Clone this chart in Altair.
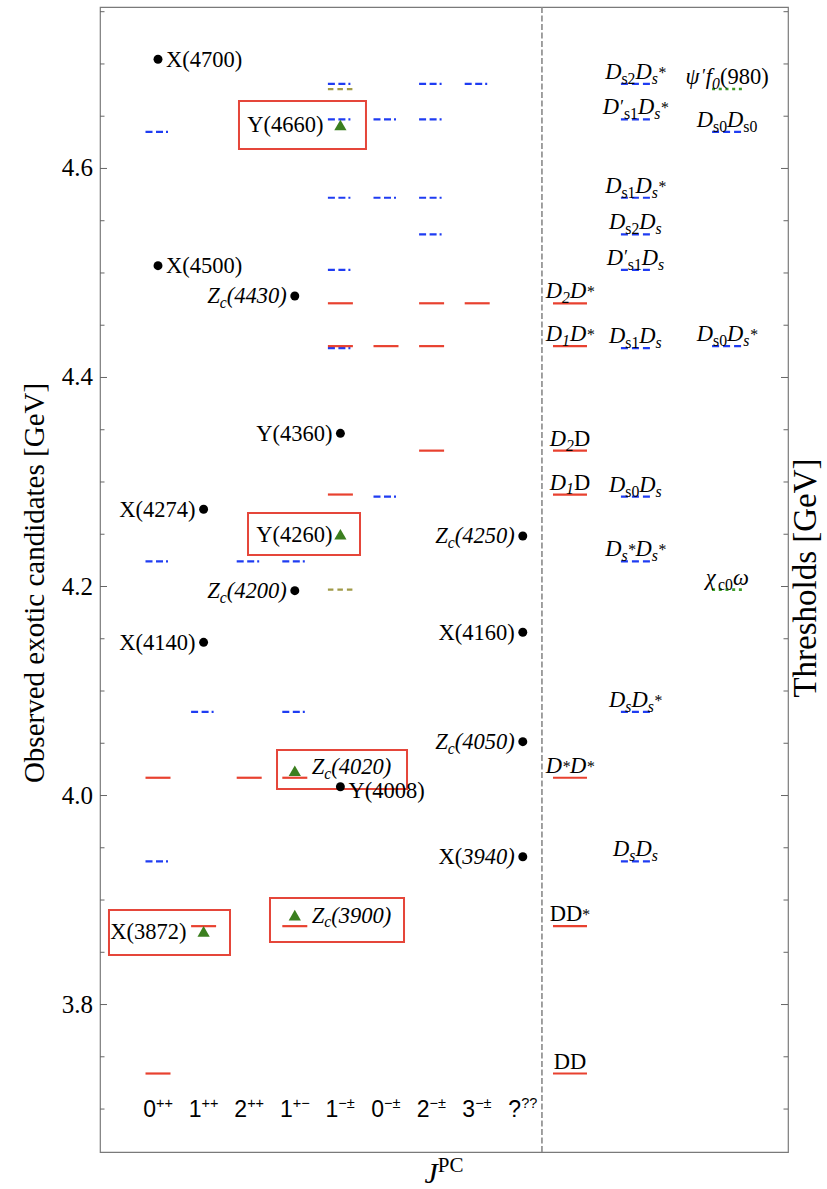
import altair as alt
import pandas as pd

# ---------------- data ----------------
jpc_digit = ["0", "1", "2", "1", "1", "0", "2", "3", "?"]
jpc_sup = ["++", "++", "++", "+−", "−±", "−±", "−±", "−±", "??"]

# thresholds repeated inside the J^PC columns (column index 1..9)
seg_col = [1, 1, 1, 1, 1,
           2, 2,
           3, 3,
           4, 4, 4, 4,
           5, 5, 5, 5, 5, 5, 5, 5, 5, 5,
           6, 6, 6, 6,
           7, 7, 7, 7, 7, 7, 7,
           8, 8]
seg_mass = [4.635, 4.224, 4.017, 3.937, 3.734,
            4.080, 3.875,
            4.224, 4.017,
            4.224, 4.080, 4.017, 3.875,
            4.681, 4.676, 4.647, 4.572, 4.503, 4.471, 4.428, 4.430, 4.288, 4.197,
            4.647, 4.572, 4.430, 4.286,
            4.681, 4.647, 4.572, 4.537, 4.471, 4.430, 4.330,
            4.681, 4.471]
seg_kind = ["B", "B", "R", "B", "R",
            "B", "R",
            "B", "R",
            "B", "B", "R", "R",
            "B", "O", "B", "B", "B", "R", "B", "R", "R", "O",
            "B", "B", "R", "B",
            "B", "B", "B", "B", "R", "R", "R",
            "B", "R"]

# threshold columns on the right (column 1..3)
thr_col = [1, 1, 1, 1, 1, 1, 1,
           2, 2, 2, 2, 2, 2, 2, 2, 2, 2,
           3, 3, 3, 3]
thr_mass = [4.471, 4.430, 4.330, 4.288, 4.017, 3.875, 3.734,
            4.681, 4.647, 4.572, 4.537, 4.503, 4.428, 4.286, 4.224, 4.080, 3.937,
            4.676, 4.635, 4.430, 4.197]
thr_kind = ["R", "R", "R", "R", "R", "R", "R",
            "B", "B", "B", "B", "B", "B", "B", "B", "B", "B",
            "G", "B", "B", "G"]
thr_label = ["D_2D^*", "D_1D^*", "D_2~D", "D_1~D", "D^*D^*", "~DD^*", "~DD",
             "D_{~s2~}D_s^*", "D^′_{~s1~}D_s^*", "D_{~s1~}D_s^*", "D_{~s2~}D_s",
             "D^′_{~s1~}D_s", "D_{~s1~}D_s", "D_{~s0~}D_s", "D_s^*D_s^*",
             "D_sD_s^*", "D_sD_s",
             "ψ^′f_0~(980)", "D_{~s0~}D_{~s0~}", "D_{~s0~}D_s^*", "χ_{~c0~}ω"]

# observed exotic candidates
cand_label = ["X(4700)", "X(4500)", "~Z_c(4430)", "Y(4660)", "Y(4360)", "X(4274)",
              "Y(4260)", "~Z_c(4250)", "~Z_c(4200)", "X(4140)", "X(4160)",
              "~Z_c(4050)", "~Z_c(4020)", "Y(4008)", "X(~3940)", "X(3872)",
              "~Z_c(3900)"]
cand_col = [1, 1, 4, 5, 5, 2, 5, 9, 4, 2, 9, 9, 4, 5, 9, 2, 4]
cand_mass = [4.7045, 4.507, 4.478, 4.6416, 4.3466, 4.2739, 4.250, 4.2483, 4.196,
             4.1466, 4.1562, 4.0515, 4.0237, 4.0084, 3.9414, 3.870, 3.8856]
cand_shape = ["circle", "circle", "circle", "triangle", "circle", "circle",
              "triangle", "circle", "circle", "circle", "circle", "circle",
              "triangle", "circle", "circle", "triangle", "triangle"]
cand_side = ["R", "R", "L", "L", "L", "L", "L", "L", "L", "L", "L", "L",
             "R", "R", "L", "L", "R"]

# highlight boxes (data units)
box_x1 = [2.776, 2.974, 3.610, -0.075, 3.456]
box_x2 = [5.561, 5.430, 6.461, 2.579, 6.395]
box_y1 = [4.6187, 4.2301, 4.0062, 3.8474, 3.8598]
box_y2 = [4.6646, 4.2703, 4.0435, 3.8904, 3.9019]

tick_minor = [3.70, 3.75, 3.80, 3.85, 3.90, 3.95, 4.00, 4.05, 4.10, 4.15, 4.20,
              4.25, 4.30, 4.35, 4.40, 4.45, 4.50, 4.55, 4.60, 4.65, 4.70, 4.75]
tick_major = [3.8, 4.0, 4.2, 4.4, 4.6]
tick_text = ["3.8", "4.0", "4.2", "4.4", "4.6"]

# ---------------- layout constants ----------------
X_DOM = [-0.272, 14.816]
Y_DOM = [3.6589, 4.7545]
W, H = 688, 1145
KX = (X_DOM[1] - X_DOM[0]) / W
KY = (Y_DOM[1] - Y_DOM[0]) / H
THR_X = [10.035, 11.47, 13.48]
SEP_X = 9.42
CAND_HALF = 12.5 * KX
THR_HALF = [17 * KX, 14.5 * KX, 15 * KX]

RED = "#e8412f"
BLUE = "#1f3cf2"
OLIVE = "#a09a48"
GREEN = "#3c9a26"
TRI = "#3b7f1f"
BOXC = "#e5463a"
SERIF = "Liberation Serif"
SANSF = "Liberation Sans"

TR = {'(': .333, ')': .333, '*': .5, '.': .25, ' ': .25, 'D': .722, 'X': .722,
      'Y': .722, 'Z': .611, 'J': .389, 'P': .556, 'C': .667, 's': .389, 'c': .444,
      'f': .333, '′': .275, 'ψ': .686, 'χ': .55, 'ω': .686}
TI = {'(': .333, ')': .333, '*': .5, 'D': .722, 'X': .611, 'Y': .556, 'Z': .556,
      'J': .444, 'P': .611, 'C': .667, 's': .389, 'c': .444, 'f': .278, '′': .275,
      'ψ': .686, 'χ': .55, 'ω': .686}
TS = {'+': .584, '−': .584, '±': .584, '?': .556}


def cw(ch, it, fam):
    if fam == "sans":
        return TS.get(ch, .556)
    if ch.isdigit():
        return .5
    return (TI if it else TR).get(ch, .5)


def layout(markup, fs, italic, fam="serif", ssize=0.7, sub_sh=0.22, sup_sh=-0.40):
    toks = []
    i = 0
    it = italic
    while i < len(markup):
        ch = markup[i]
        if ch == '~':
            it = not it
            i += 1
            continue
        if ch in '_^':
            role = 'sub' if ch == '_' else 'sup'
            i += 1
            if markup[i] == '{':
                j = markup.index('}', i)
                grp = markup[i + 1:j]
                i = j + 1
            else:
                grp = markup[i]
                i += 1
            chars = []
            for g in grp:
                if g == '~':
                    it = not it
                else:
                    chars.append((g, it))
            toks.append((role, chars))
        else:
            toks.append(('n', [(ch, it)]))
            i += 1
    runs = []
    cur = 0.0
    for role, chars in toks:
        if role == 'n':
            c, cit = chars[0]
            w = cw(c, cit, fam) * fs
            runs.append([c, cur, 0.0, fs, cit, w])
            cur += w
            continue
        size = fs * ssize
        shift = (sub_sh if role == 'sub' else sup_sh) * fs
        if chars and chars[0][0] == '*':
            shift = -0.05 * fs
        if chars and chars[0][0] == '′':
            size = fs * 0.8
            shift = -0.08 * fs
        for c, cit in chars:
            w = cw(c, cit, fam) * size
            runs.append([c, cur, shift, size, cit, w])
            cur += w
    merged = []
    for r in runs:
        if merged:
            p = merged[-1]
            if p[2] == r[2] and p[3] == r[3] and p[4] == r[4] and abs(p[1] + p[5] - r[1]) < 1e-6:
                p[0] += r[0]
                p[5] += r[5]
                continue
        merged.append(list(r))
    return merged, cur


def place(markup, x, y, align, dx, dy, fs, italic, fam="serif", **kw):
    runs, total = layout(markup, fs, italic, fam, **kw)
    start = {'left': 0.0, 'right': -total, 'center': -total / 2}[align] + dx
    rows = []
    for text, xo, yo, size, it, _w in runs:
        rows.append(dict(x=x + (start + xo) * KX, y=y - (dy + yo) * KY,
                         text=text, size=size, italic=it, fam=fam))
    return rows


# ---------------- build tables ----------------
seg = pd.DataFrame({"col": seg_col, "mass": seg_mass, "kind": seg_kind})
seg["x1"] = seg["col"] - CAND_HALF
seg["x2"] = seg["col"] + CAND_HALF

thr = pd.DataFrame({"col": thr_col, "mass": thr_mass, "kind": thr_kind, "label": thr_label})
thr["xc"] = [THR_X[c - 1] for c in thr["col"]]
thr["x1"] = [THR_X[c - 1] - THR_HALF[c - 1] for c in thr["col"]]
thr["x2"] = [THR_X[c - 1] + THR_HALF[c - 1] for c in thr["col"]]

cand = pd.DataFrame({"label": cand_label, "col": cand_col, "mass": cand_mass,
                     "shape": cand_shape, "side": cand_side})

FS = 22.5
# candidate label geometry (pixel units), then a simple vertical de-collision pass
cl = []
for lab, c, m, sd in zip(cand_label, cand_col, cand_mass, cand_side):
    near = any(cc == c and abs(mm - m) < 0.015 for cc, mm in zip(seg_col, seg_mass))
    off = 17 if near else 8
    _r, tw = layout(lab, FS, False)
    px = c / KX
    if sd == "L":
        ext = (px - off - tw, px - off)
        cl.append(dict(lab=lab, c=c, m=m, align='right', dx=-off, ext=ext, cy=-m / KY, shift=0.0))
    else:
        ext = (px + off, px + off + tw)
        cl.append(dict(lab=lab, c=c, m=m, align='left', dx=off, ext=ext, cy=-m / KY, shift=0.0))
MIN_SEP = 24.0
for a in range(len(cl)):
    for b in range(a + 1, len(cl)):
        A, B = cl[a], cl[b]
        if A["ext"][1] < B["ext"][0] or B["ext"][1] < A["ext"][0]:
            continue
        d = (B["cy"] + B["shift"]) - (A["cy"] + A["shift"])
        if abs(d) < MIN_SEP:
            push = (MIN_SEP - abs(d)) / 2
            sgn = 1 if d >= 0 else -1
            B["shift"] += sgn * push
            A["shift"] -= sgn * push

rows = []
for L in cl:
    rows += place(L["lab"], L["c"], L["m"], L["align"], L["dx"], 0.33 * FS + L["shift"], FS, False)
for lab, xc, m in zip(thr_label, thr["xc"], thr_mass):
    rows += place(lab, xc, m, 'center', 0, -5, FS, True)
for i, (d, s) in enumerate(zip(jpc_digit, jpc_sup)):
    rows += place(d + "^{" + s + "}", i + 1, 3.70, 'center', 0, 7.5, 23, False,
                  fam="sans", ssize=0.63, sup_sh=-0.38)
rows += place("J^{~PC}", (X_DOM[0] + X_DOM[1]) / 2, Y_DOM[0], 'center', 0, 31, 30, True,
              ssize=0.7, sup_sh=-0.37)
txt = pd.DataFrame(rows)

boxes = pd.DataFrame({"x1": box_x1, "x2": box_x2, "y1": box_y1, "y2": box_y2})

ticks = pd.DataFrame({"y": tick_minor})
ticks["major"] = [any(abs(t - mj) < 1e-9 for mj in tick_major) for t in tick_minor]
ticks["len"] = [7 if mj else 4.5 for mj in ticks["major"]]
lt = pd.DataFrame({"y": ticks["y"], "x1": X_DOM[0], "x2": X_DOM[0] + ticks["len"] * KX})
rt = pd.DataFrame({"y": ticks["y"], "x1": X_DOM[1] - ticks["len"] * KX, "x2": X_DOM[1]})
tickdf = pd.concat([lt, rt], ignore_index=True)
ticklab = pd.DataFrame({"y": tick_major, "text": tick_text, "x": X_DOM[0] - 7 * KX})

titles = pd.DataFrame({
    "x": [X_DOM[0] + (44 - 100) * KX, X_DOM[0] + (816 - 100) * KX],
    "y": [Y_DOM[1] - (583 - 7) * KY, Y_DOM[1] - (578 - 7) * KY],
    "text": ["Observed exotic candidates [GeV]", "Thresholds [GeV]"],
    "size": [29, 33],
})

sep = pd.DataFrame({"x": [SEP_X], "y1": [Y_DOM[0]], "y2": [Y_DOM[1]]})


def X(f):
    return alt.X(f, type="quantitative", scale=alt.Scale(domain=X_DOM, nice=False, zero=False), axis=None)


def Y(f):
    return alt.Y(f, type="quantitative", scale=alt.Scale(domain=Y_DOM, nice=False, zero=False), axis=None)


layers = []

# separator
layers.append(alt.Chart(sep).mark_rule(color="#8a8a8a", strokeWidth=1.6, strokeDash=[6, 2.5])
              .encode(x=X("x"), y=Y("y1"), y2="y2"))
# ticks
layers.append(alt.Chart(tickdf).mark_rule(color="#666666", strokeWidth=1)
              .encode(x=X("x1"), x2="x2", y=Y("y")))
layers.append(alt.Chart(ticklab).mark_text(align="right", baseline="middle", font=SERIF,
                                           fontSize=25, color="black")
              .encode(x=X("x"), y=Y("y"), text="text"))
# titles
layers.append(alt.Chart(titles).mark_text(angle=270, align="center", baseline="alphabetic",
                                          font=SERIF, color="black")
              .encode(x=X("x"), y=Y("y"), text="text", size=alt.Size("size:Q", scale=None)))
# boxes
layers.append(alt.Chart(boxes).mark_rect(filled=False, stroke=BOXC, strokeWidth=2)
              .encode(x=X("x1"), x2="x2", y=Y("y1"), y2="y2"))

# candidate-column threshold segments
layers.append(alt.Chart(seg[seg.kind == "B"]).mark_rule(color=BLUE, strokeWidth=2.2,
                                                       strokeDash=[7, 3.5, 7, 3, 2, 3])
              .encode(x=X("x1"), x2="x2", y=Y("mass")))
layers.append(alt.Chart(seg[seg.kind == "O"]).mark_rule(color=OLIVE, strokeWidth=2.2,
                                                       strokeDash=[5.5, 4])
              .encode(x=X("x1"), x2="x2", y=Y("mass")))
layers.append(alt.Chart(seg[seg.kind == "R"]).mark_rule(color=RED, strokeWidth=2.2)
              .encode(x=X("x1"), x2="x2", y=Y("mass")))
# threshold column segments
layers.append(alt.Chart(thr[thr.kind == "B"]).mark_rule(color=BLUE, strokeWidth=2.2,
                                                       strokeDash=[7, 4])
              .encode(x=X("x1"), x2="x2", y=Y("mass")))
layers.append(alt.Chart(thr[thr.kind == "G"]).mark_rule(color=GREEN, strokeWidth=2.6,
                                                       strokeDash=[3, 3.7])
              .encode(x=X("x1"), x2="x2", y=Y("mass")))
layers.append(alt.Chart(thr[thr.kind == "R"]).mark_rule(color=RED, strokeWidth=2.2)
              .encode(x=X("x1"), x2="x2", y=Y("mass")))

# markers
layers.append(alt.Chart(cand[cand["shape"] == "circle"]).mark_point(shape="circle", filled=True,
                                                                   size=80, color="black", opacity=1)
              .encode(x=X("col"), y=Y("mass")))
layers.append(alt.Chart(cand[cand["shape"] == "triangle"]).mark_point(shape="triangle-up", filled=True,
                                                                     size=150, color=TRI, opacity=1)
              .encode(x=X("col"), y=Y("mass")))

# rich text
for fam, it in [("serif", False), ("serif", True), ("sans", False)]:
    sub = txt[(txt.fam == fam) & (txt.italic == it)]
    if len(sub) == 0:
        continue
    layers.append(alt.Chart(sub).mark_text(align="left", baseline="alphabetic",
                                           font=SERIF if fam == "serif" else SANSF,
                                           fontStyle="italic" if it else "normal",
                                           color="black")
                  .encode(x=X("x"), y=Y("y"), text="text", size=alt.Size("size:Q", scale=None)))

chart = alt.layer(*layers).properties(
    width=W, height=H,
    autosize=alt.AutoSizeParams(type="none"),
    padding={"left": 100, "top": 7, "right": 39, "bottom": 37},
    background="white",
).configure_view(stroke="#7a7a7a", strokeWidth=1.2)

chart.save("out.html", embed_options={"renderer": "svg", "actions": False})
